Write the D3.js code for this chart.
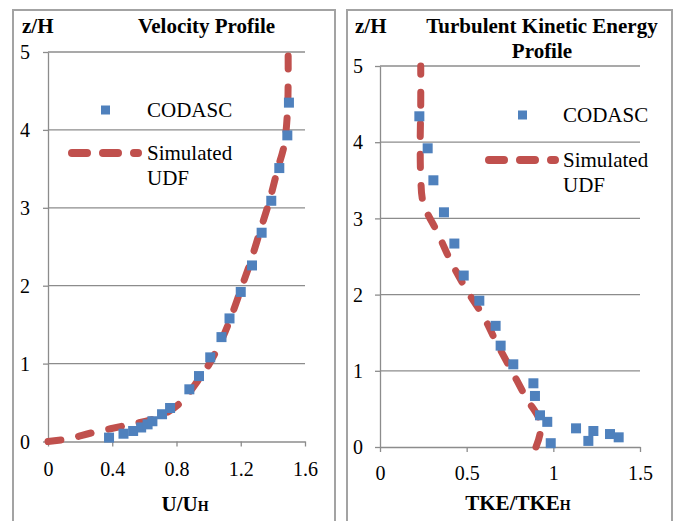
<!DOCTYPE html>
<html>
<head>
<meta charset="utf-8">
<script src="https://cdn.jsdelivr.net/npm/d3@7"></script>
<style>
  html, body { margin: 0; padding: 0; background: #fff; }
  svg { display: block; font-family: "Liberation Serif", "Times New Roman", serif; }
</style>
</head>
<body>
<svg id="chart" width="675" height="521"></svg>
<script>
// Velocity profile: measured (CODASC) points
const velZ = [0.05, 0.10, 0.135, 0.18, 0.22, 0.26, 0.35, 0.43, 0.67, 0.84, 1.08, 1.34, 1.58, 1.92, 2.26, 2.68, 3.09, 3.51, 3.93, 4.35];
const velU = [0.38, 0.47, 0.53, 0.58, 0.62, 0.65, 0.71, 0.76, 0.88, 0.94, 1.01, 1.08, 1.13, 1.20, 1.27, 1.33, 1.39, 1.44, 1.49, 1.50];

// Velocity profile: simulated UDF curve
const simVelZ = [0, 0.04, 0.11, 0.20, 0.285, 0.37, 0.51, 0.83, 1.0, 1.3, 1.6, 1.95, 2.3, 2.7, 3.1, 3.5, 3.8, 4.2, 4.6, 5.0];
const simVelU = [0, 0.14, 0.27, 0.47, 0.65, 0.74, 0.83, 0.95, 1.005, 1.08, 1.14, 1.20, 1.26, 1.32, 1.38, 1.43, 1.47, 1.49, 1.495, 1.495];

// TKE profile: measured (CODASC) points
const tkeZ = [0.05, 0.08, 0.127, 0.17, 0.21, 0.245, 0.33, 0.416, 0.67, 0.836, 1.085, 1.33, 1.59, 1.92, 2.25, 2.67, 3.08, 3.50, 3.92, 4.34];
const tkeV = [0.985, 1.202, 1.377, 1.327, 1.231, 1.131, 0.965, 0.923, 0.894, 0.885, 0.769, 0.696, 0.667, 0.573, 0.483, 0.429, 0.369, 0.308, 0.275, 0.227];

// TKE profile: simulated UDF curve
const simTkeZ = [0, 0.2, 0.38, 0.62, 1.0, 1.38, 1.7, 2.06, 2.43, 2.8, 3.2, 3.55, 4.0, 4.5, 5.0];
const simTkeV = [0.90, 0.925, 0.915, 0.85, 0.76, 0.67, 0.60, 0.50, 0.41, 0.335, 0.25, 0.235, 0.232, 0.235, 0.235];

// Axis tick values
const velXTicks = [0, 0.4, 0.8, 1.2, 1.6];
const tkeXTicks = [0, 0.5, 1, 1.5];
const zTicks = [0, 1, 2, 3, 4, 5];

const legendLabels = ["CODASC", "Simulated", "UDF"];

const BLUE = "#4f81bd";
const RED = "#c0504d";
const GRID = "#8c8c8c";

const svg = d3.select("#chart");

function panel(cfg) {
  const g = svg.append("g");

  // panel frame
  g.append("rect")
    .attr("x", cfg.frame[0]).attr("y", cfg.frame[1])
    .attr("width", cfg.frame[2]).attr("height", cfg.frame[3])
    .attr("fill", "none").attr("stroke", "#a3a3a3").attr("stroke-width", 2);

  const x = d3.scaleLinear().domain(cfg.xDomain).range(cfg.xRange);
  const y = d3.scaleLinear().domain([0, 5]).range(cfg.yRange);

  // horizontal gridlines
  g.append("g").selectAll("line")
    .data(zTicks.filter(d => d > 0))
    .join("line")
    .attr("x1", x.range()[0]).attr("x2", x.range()[1])
    .attr("y1", d => y(d)).attr("y2", d => y(d))
    .attr("stroke", GRID).attr("stroke-width", 1.3);

  // x axis
  const xa = g.append("g")
    .attr("transform", `translate(0,${y(0)})`)
    .call(d3.axisBottom(x).tickValues(cfg.xTicks).tickSize(5).tickSizeOuter(0).tickFormat(d3.format("")));
  xa.select(".domain").attr("stroke", GRID).attr("stroke-width", 1.3);
  xa.selectAll(".tick line").attr("stroke", GRID).attr("stroke-width", 1.3);
  xa.selectAll(".tick text")
    .attr("y", cfg.xLabelOffset).attr("dy", "0.71em")
    .attr("font-size", 20).attr("fill", "#000")
    .attr("font-family", "Liberation Serif, Times New Roman, serif");

  // y axis
  const ya = g.append("g")
    .attr("transform", `translate(${x(0)},0)`)
    .call(d3.axisLeft(y).tickValues(zTicks).tickSize(5).tickSizeOuter(0).tickFormat(d3.format("d")));
  ya.select(".domain").attr("stroke", GRID).attr("stroke-width", 1.3);
  ya.selectAll(".tick line").attr("stroke", GRID).attr("stroke-width", 1.3);
  ya.selectAll(".tick text")
    .attr("x", cfg.yLabelOffset).attr("dy", "0.33em")
    .attr("font-size", 20).attr("fill", "#000")
    .attr("font-family", "Liberation Serif, Times New Roman, serif");

  // simulated profile (dashed)
  const simPts = cfg.simX.map((v, i) => [v, cfg.simZ[i]]);
  g.append("path")
    .datum(simPts)
    .attr("d", d3.line().x(d => x(d[0])).y(d => y(d[1])).curve(d3.curveCatmullRom.alpha(0.5)))
    .attr("fill", "none").attr("stroke", RED).attr("stroke-width", 7)
    .attr("stroke-linecap", "round").attr("stroke-dasharray", "13,18");

  // measured points
  const pts = cfg.ptX.map((v, i) => [v, cfg.ptZ[i]]);
  const s = 10;
  g.append("g").selectAll("rect")
    .data(pts).join("rect")
    .attr("x", d => x(d[0]) - s / 2).attr("y", d => y(d[1]) - s / 2)
    .attr("width", s).attr("height", s)
    .attr("fill", BLUE);

  // titles
  g.append("text").attr("x", cfg.zLabel[0]).attr("y", cfg.zLabel[1])
    .attr("font-size", 21).attr("font-weight", "bold").text("z/H");
  cfg.title.forEach(t => {
    g.append("text").attr("x", t[1]).attr("y", t[2])
      .attr("text-anchor", t[3]).attr("font-size", 21).attr("font-weight", "bold").text(t[0]);
  });

  // axis title with small-cap subscript H
  const at = g.append("text").attr("x", cfg.axisTitle[1]).attr("y", cfg.axisTitle[2])
    .attr("text-anchor", "middle").attr("font-size", 21).attr("font-weight", "bold");
  at.append("tspan").text(cfg.axisTitle[0]);
  at.append("tspan").attr("font-size", 14).text("H");

  // legend
  const L = cfg.legend;
  g.append("rect").attr("x", L.sq[0] - 4.5).attr("y", L.sq[1] - 4.5)
    .attr("width", 9).attr("height", 9).attr("fill", BLUE);
  g.append("text").attr("x", L.textX).attr("y", L.codY).attr("font-size", 21).text(legendLabels[0]);
  g.append("line").attr("x1", L.line[0]).attr("x2", L.line[1])
    .attr("y1", L.line[2]).attr("y2", L.line[2])
    .attr("stroke", RED).attr("stroke-width", 8).attr("stroke-linecap", "round")
    .attr("stroke-dasharray", "15,16");
  g.append("text").attr("x", L.textX).attr("y", L.simY).attr("font-size", 21).text(legendLabels[1]);
  g.append("text").attr("x", L.textX).attr("y", L.simY + 24.5).attr("font-size", 21).text(legendLabels[2]);
}

panel({
  frame: [13, 10, 322, 530],
  xDomain: [0, 1.6], xRange: [48, 305],
  yRange: [441.5, 52],
  xTicks: velXTicks,
  xLabelOffset: 20, yLabelOffset: -18,
  simX: simVelU, simZ: simVelZ,
  ptX: velU, ptZ: velZ,
  zLabel: [22, 33],
  title: [["Velocity Profile", 138, 33, "start"]],
  axisTitle: ["U/U", 185, 511],
  legend: { sq: [105.5, 110], textX: 147, codY: 117, line: [72, 138, 153], simY: 160 }
});

panel({
  frame: [347, 10, 325, 530],
  xDomain: [0, 1.5], xRange: [380, 640],
  yRange: [447, 66],
  xTicks: tkeXTicks,
  xLabelOffset: 19, yLabelOffset: -17,
  simX: simTkeV, simZ: simTkeZ,
  ptX: tkeV, ptZ: tkeZ,
  zLabel: [355, 33],
  title: [["Turbulent Kinetic Energy", 542, 33, "middle"], ["Profile", 542, 58, "middle"]],
  axisTitle: ["TKE/TKE", 518, 510],
  legend: { sq: [522.5, 115], textX: 563, codY: 122, line: [489, 555, 160], simY: 167 }
});
</script>
</body>
</html>
